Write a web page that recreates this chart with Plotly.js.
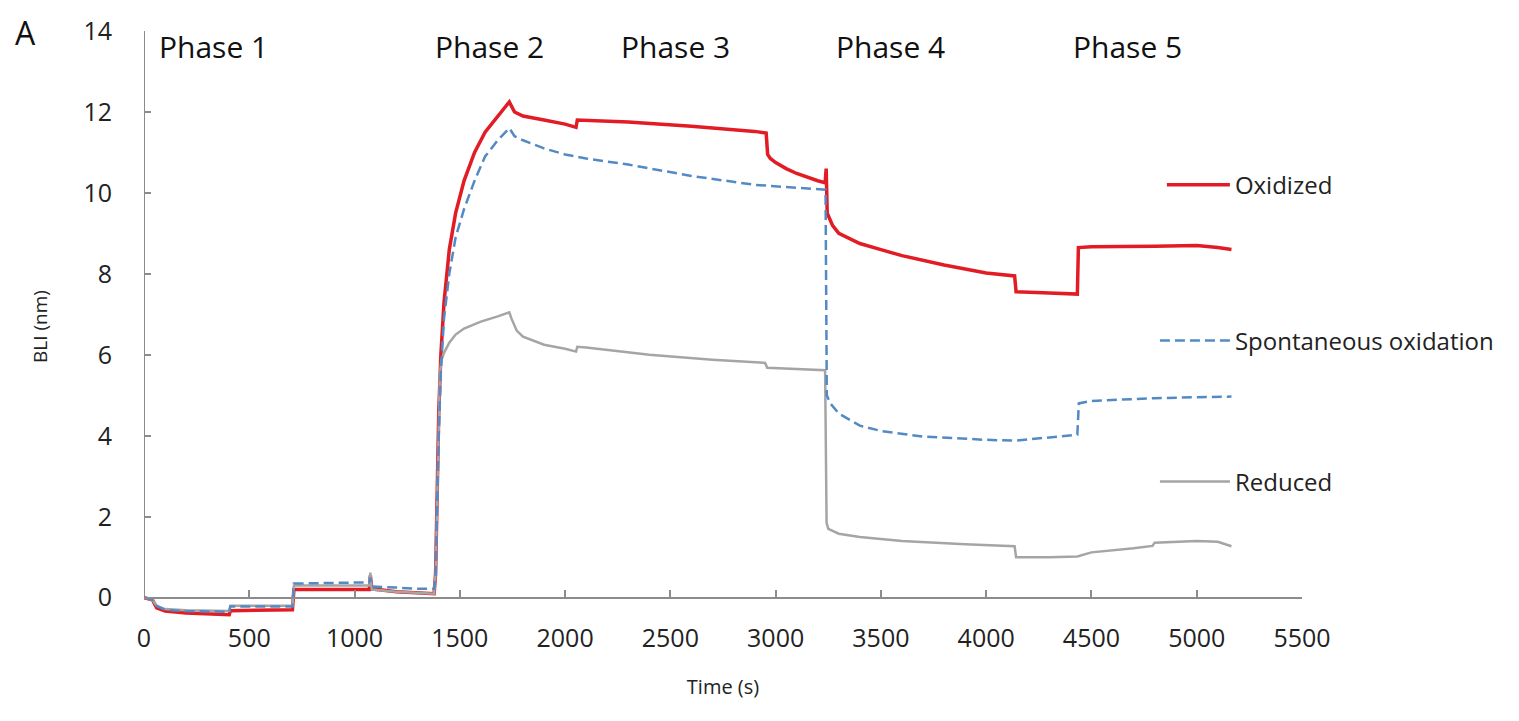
<!DOCTYPE html>
<html>
<head>
<meta charset="utf-8">
<script src="https://cdn.plot.ly/plotly-3.0.1.min.js"></script>
<style>
  html, body { margin: 0; padding: 0; background: #fff; }
  #chart { width: 1519px; height: 721px; }
</style>
</head>
<body>
<div id="chart"></div>
<script>
// ---- Data (time in s, BLI signal in nm) ----
const seriesNames = ["Oxidized", "Spontaneous oxidation", "Reduced"];

const oxidizedTime = [0, 40, 60, 100, 200, 300, 405, 410, 500, 600, 705, 712, 900, 1070, 1075, 1082, 1200, 1300, 1378,
  1385, 1390, 1395, 1400, 1410, 1425, 1450, 1480, 1520, 1570, 1620, 1680, 1735,
  1760, 1800, 1900, 2000, 2052, 2058, 2300, 2600, 2900, 2955,
  2962, 2975, 3000, 3050, 3100, 3150, 3200, 3235, 3240, 3245, 3270, 3300, 3400, 3500, 3600, 3800, 4000, 4135, 4142, 4300, 4433, 4438, 4500, 4800, 5000, 5100, 5165];
const oxidizedBLI = [0, -0.05, -0.25, -0.33, -0.38, -0.4, -0.42, -0.32, -0.31, -0.3, -0.3, 0.2, 0.2, 0.2, 0.55, 0.22, 0.15, 0.12, 0.1,
  0.6, 2.0, 3.4, 4.6, 6.0, 7.3, 8.6, 9.5, 10.3, 11.0, 11.5, 11.9, 12.25,
  12.0, 11.9, 11.8, 11.7, 11.62, 11.8, 11.75, 11.65, 11.52, 11.48,
  10.95, 10.85, 10.75, 10.6, 10.48, 10.38, 10.3, 10.25, 10.6, 9.5, 9.2, 9.0, 8.75, 8.6, 8.45, 8.22, 8.02, 7.95, 7.56, 7.53, 7.5, 8.65, 8.67, 8.68, 8.7, 8.65, 8.6];

const spontaneousTime = [0, 40, 60, 100, 200, 300, 405, 410, 500, 600, 705, 712, 900, 1070, 1075, 1082, 1200, 1300, 1378,
  1385, 1390, 1395, 1400, 1410, 1425, 1450, 1480, 1520, 1570, 1620, 1680, 1735,
  1760, 1800, 1900, 2000, 2100, 2300, 2600, 2900, 3100, 3237,
  3243, 3260, 3300, 3400, 3500, 3700, 4000, 4140, 4300, 4433, 4440, 4500, 4800, 5000, 5165];
const spontaneousBLI = [0, -0.05, -0.2, -0.3, -0.33, -0.34, -0.35, -0.22, -0.22, -0.22, -0.22, 0.35, 0.37, 0.38, 0.5, 0.28, 0.25, 0.22, 0.22,
  0.5, 1.8, 3.0, 4.0, 5.6, 6.9, 8.0, 8.9, 9.6, 10.3, 10.9, 11.3, 11.6,
  11.4, 11.3, 11.1, 10.95, 10.85, 10.7, 10.42, 10.2, 10.12, 10.08,
  5.0, 4.8, 4.55, 4.25, 4.12, 3.98, 3.9, 3.88, 3.96, 4.03, 4.8, 4.86, 4.93, 4.96, 4.97];

const reducedTime = [0, 40, 60, 100, 200, 300, 405, 410, 500, 600, 705, 712, 900, 1070, 1075, 1082, 1200, 1300, 1378,
  1385, 1390, 1395, 1400, 1405, 1412, 1425, 1450, 1480, 1520, 1600, 1680, 1735,
  1745, 1770, 1800, 1850, 1900, 2000, 2052, 2058, 2100, 2400, 2700, 2950, 2960, 3235,
  3242, 3250, 3300, 3400, 3600, 3900, 4135, 4142, 4300, 4433, 4500, 4700, 4790, 4800, 5000, 5100, 5165];
const reducedBLI = [0, -0.05, -0.2, -0.28, -0.31, -0.32, -0.33, -0.2, -0.2, -0.2, -0.2, 0.3, 0.3, 0.3, 0.62, 0.2, 0.15, 0.12, 0.1,
  0.6, 2.0, 3.4, 4.6, 5.5, 5.85, 6.05, 6.3, 6.5, 6.65, 6.82, 6.95, 7.05,
  6.9, 6.6, 6.45, 6.35, 6.25, 6.15, 6.08, 6.2, 6.18, 6.0, 5.88, 5.8, 5.68, 5.62,
  1.85, 1.7, 1.58, 1.5, 1.4, 1.32, 1.27, 1.0, 1.0, 1.02, 1.12, 1.22, 1.28, 1.36, 1.4, 1.38, 1.27];

const phaseLabels = ["Phase 1", "Phase 2", "Phase 3", "Phase 4", "Phase 5"];
const xTickValues = [0, 500, 1000, 1500, 2000, 2500, 3000, 3500, 4000, 4500, 5000, 5500];
const yTickValues = [0, 2, 4, 6, 8, 10, 12, 14];

// ---- Styling / layout ----
const FONT = '"Open Sans", "Liberation Sans", sans-serif';
const AXIS_COLOR = '#8c8c8c';
const phaseX = [330, 1641, 2523, 3544, 4670];

const traces = [
  {
    x: oxidizedTime, y: oxidizedBLI, name: seriesNames[0], type: 'scatter', mode: 'lines',
    line: { color: 'rgb(226,28,36)', width: 3.5 }, legend: 'legend'
  },
  {
    x: reducedTime, y: reducedBLI, name: seriesNames[2], type: 'scatter', mode: 'lines',
    line: { color: 'rgb(165,165,165)', width: 2.5 }, legend: 'legend3'
  },
  {
    x: spontaneousTime, y: spontaneousBLI, name: seriesNames[1], type: 'scatter', mode: 'lines',
    line: { color: 'rgb(84,138,196)', width: 2.5, dash: '10px,5px' }, legend: 'legend2'
  }
];

const legendBase = {
  xanchor: 'left', yanchor: 'middle', bgcolor: 'rgba(0,0,0,0)', borderwidth: 0,
  font: { family: FONT, size: 24, color: '#222' }, tracegroupgap: 0
};

const layout = {
  width: 1519, height: 721,
  margin: { l: 144, r: 217, t: 31, b: 99 },
  paper_bgcolor: '#fff', plot_bgcolor: '#fff',
  showlegend: true,
  legend: Object.assign({}, legendBase, { x: 0.879, y: 0.739, itemwidth: 63 }),
  legend2: Object.assign({}, legendBase, { x: 0.873, y: 0.4755, itemwidth: 70 }),
  legend3: Object.assign({}, legendBase, { x: 0.873, y: 0.237, itemwidth: 70 }),
  xaxis: {
    range: [0, 5500], anchor: 'free', position: 0.6 / 14.6,
    showline: true, linecolor: AXIS_COLOR, linewidth: 2,
    ticks: 'inside', ticklen: 7, tickwidth: 2, tickcolor: AXIS_COLOR,
    tickmode: 'array', tickvals: xTickValues, ticktext: xTickValues.map(String),
    ticklabelstandoff: 18,
    showgrid: false, zeroline: false,
    tickfont: { family: FONT, size: 25, color: '#222' },
    title: { text: 'Time (s)', font: { family: FONT, size: 20, color: '#222' }, standoff: 26 }
  },
  yaxis: {
    range: [-0.6, 14],
    showline: false,
    ticks: 'inside', ticklen: 7, tickwidth: 2, tickcolor: AXIS_COLOR,
    tickmode: 'array', tickvals: yTickValues, ticktext: yTickValues.map(String),
    ticklabelstandoff: 31,
    showgrid: false, zeroline: false,
    tickfont: { family: FONT, size: 25, color: '#222' },
    title: { text: 'BLI (nm)', font: { family: FONT, size: 19, color: '#222' }, standoff: 30 }
  },
  shapes: [
    { type: 'line', xref: 'x', yref: 'y', x0: 0, x1: 0, y0: 0, y1: 14, layer: 'below',
      line: { color: AXIS_COLOR, width: 2 } }
  ],
  annotations: phaseLabels.map((t, i) => ({
    text: t, xref: 'x', yref: 'paper', x: phaseX[i], y: 0.973,
    xanchor: 'center', yanchor: 'middle', showarrow: false,
    font: { family: FONT, size: 30, color: '#111' }
  })).concat([{
    text: 'A', xref: 'paper', yref: 'paper', x: -0.102, y: 0.997,
    xanchor: 'center', yanchor: 'middle', showarrow: false,
    font: { family: FONT, size: 32, color: '#111' }
  }])
};

Plotly.newPlot('chart', traces, layout, { displayModeBar: false, staticPlot: true });
</script>
</body>
</html>
